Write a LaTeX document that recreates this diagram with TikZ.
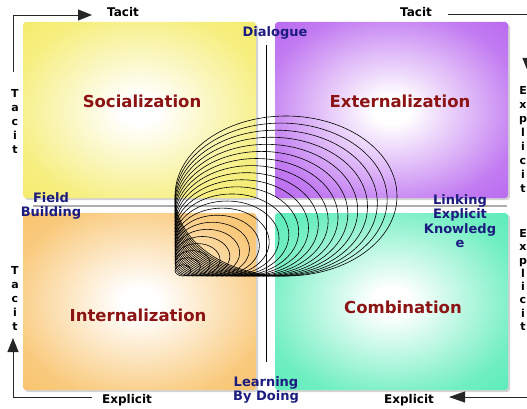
\documentclass[tikz,border=0pt]{standalone}
\usepackage{fontspec}
\setmainfont{DejaVu Sans}
\usetikzlibrary{arrows.meta,shadows}
\definecolor{yelC}{HTML}{F2E84C}
\definecolor{purC}{HTML}{AA48EC}
\definecolor{oraC}{HTML}{F7B64C}
\definecolor{greC}{HTML}{38E8AA}
\definecolor{navyT}{HTML}{1C1C80}
\definecolor{redT}{HTML}{8C1414}
\colorlet{yelM}{yelC!72!white}
\colorlet{purM}{purC!72!white}
\colorlet{oraM}{oraC!72!white}
\colorlet{greM}{greC!72!white}
\pgfdeclareradialshading{yelsh}{\pgfpoint{0bp}{0bp}}{color(0bp)=(white);color(4bp)=(white);color(28bp)=(yelM);color(50bp)=(yelC);color(100bp)=(yelC)}
\pgfdeclareradialshading{pursh}{\pgfpoint{0bp}{0bp}}{color(0bp)=(white);color(4bp)=(white);color(28bp)=(purM);color(50bp)=(purC);color(100bp)=(purC)}
\pgfdeclareradialshading{orash}{\pgfpoint{0bp}{0bp}}{color(0bp)=(white);color(4bp)=(white);color(28bp)=(oraM);color(50bp)=(oraC);color(100bp)=(oraC)}
\pgfdeclareradialshading{gresh}{\pgfpoint{0bp}{0bp}}{color(0bp)=(white);color(4bp)=(white);color(28bp)=(greM);color(50bp)=(greC);color(100bp)=(greC)}
\tikzset{
  quad/.style={draw=none, rounded corners=3pt, inner sep=0pt,
    drop shadow={opacity=0.35, shadow xshift=2pt, shadow yshift=-2pt},
    minimum width=233pt},
  title/.style={font=\fontsize{16.5}{18}\selectfont\bfseries, text=redT},
  lab/.style={font=\fontsize{12}{14}\selectfont\bfseries, text=black, inner sep=0pt},
  blab/.style={font=\fontsize{13}{14.5}\selectfont\bfseries, text=navyT, align=center, inner sep=0pt},
  vlab/.style={font=\fontsize{11}{14}\selectfont\bfseries, text=black, align=center, inner sep=0pt},
  arr/.style={line width=0.9pt, draw=black!85, -{Triangle[length=14pt,width=11pt]}},
  ring/.style={line width=0.6pt, draw=black}
}
\begin{document}
\begin{tikzpicture}[x=1pt,y=-1pt]
\useasboundingbox (0,0) rectangle (527,409);
\clip (0,0) rectangle (527,409);
% quadrants
\node[quad, shading=yelsh, shade, minimum height=176pt] (soc) at (139.5,110) {};
\node[quad, shading=pursh, shade, minimum height=176pt] (ext) at (391.5,110) {};
\node[quad, shading=orash, shade, minimum height=177pt] (int) at (139.5,301.5) {};
\node[quad, shading=gresh, shade, minimum height=177pt] (com) at (391.5,301.5) {};
% horizontal divider
\coordinate (hl) at (33,206);
\coordinate (hr) at (507,206);
\draw[gray!65, line width=1.6pt] (hl) -- (hr);
% nested ellipses
\foreach \i in {1,...,22}{
  \pgfmathsetmacro\s{0.07+0.93*(\i-1)/21}
  \pgfmathsetmacro\rx{111*\s}
  \pgfmathsetmacro\ry{80*\s}
  \draw[ring] (175+\rx,276-\ry) ellipse [x radius=\rx pt, y radius=\ry pt];
}
% vertical divider
\coordinate (vt) at (266,45);
\coordinate (vb) at (266,362);
\draw[line width=0.8pt] (vt) -- (vb);
% titles
\node[title] (tsoc) at (142,101) {Socialization};
\node[title] (text) at (400,101) {Externalization};
\node[title] (tint) at (138,315) {Internalization};
\node[title] (tcom) at (403,307) {Combination};
% side labels
\node[lab] (tacit1) at (123,12) {Tacit};
\node[lab] (tacit2) at (416,12) {Tacit};
\node[lab] (expl1) at (127,400) {Explicit};
\node[lab] (expl2) at (409,400) {Explicit};
\node[vlab] (vt1) at (15,121) {T\\a\\c\\i\\t};
\node[vlab] (vt2) at (15,298) {T\\a\\c\\i\\t};
\node[vlab] (ve1) at (523,139) {E\\x\\p\\l\\i\\c\\i\\t};
\node[vlab, font=\fontsize{11}{13.3}\selectfont\bfseries] (ve2) at (523,280) {E\\x\\p\\l\\i\\c\\i\\t};
% blue labels
\node[blab] (dlg) at (275,33) {Dialogue};
\node[blab] (fb) at (51,206) {Field\\Building};
\node[blab] (lek) at (460,221) {Linking\\Explicit\\Knowledg\\e};
\node[blab] (lbd) at (266,390) {Learning\\By Doing};
% arrows
\coordinate (a1) at (13,72);
\coordinate (a3) at (92,15);
\draw[arr] (a1) |- (a3);
\coordinate (b1) at (448,14);
\coordinate (b3) at (528,72);
\draw[arr] (b1) -| (b3);
\coordinate (c1) at (530,397);
\coordinate (c2) at (449,397);
\draw[arr, -{Triangle[length=16pt,width=11pt]}] (c1) -- (c2);
\coordinate (d1) at (92,397);
\coordinate (d3) at (13,338);
\draw[arr] (d1) -| (d3);
\end{tikzpicture}
\end{document}
